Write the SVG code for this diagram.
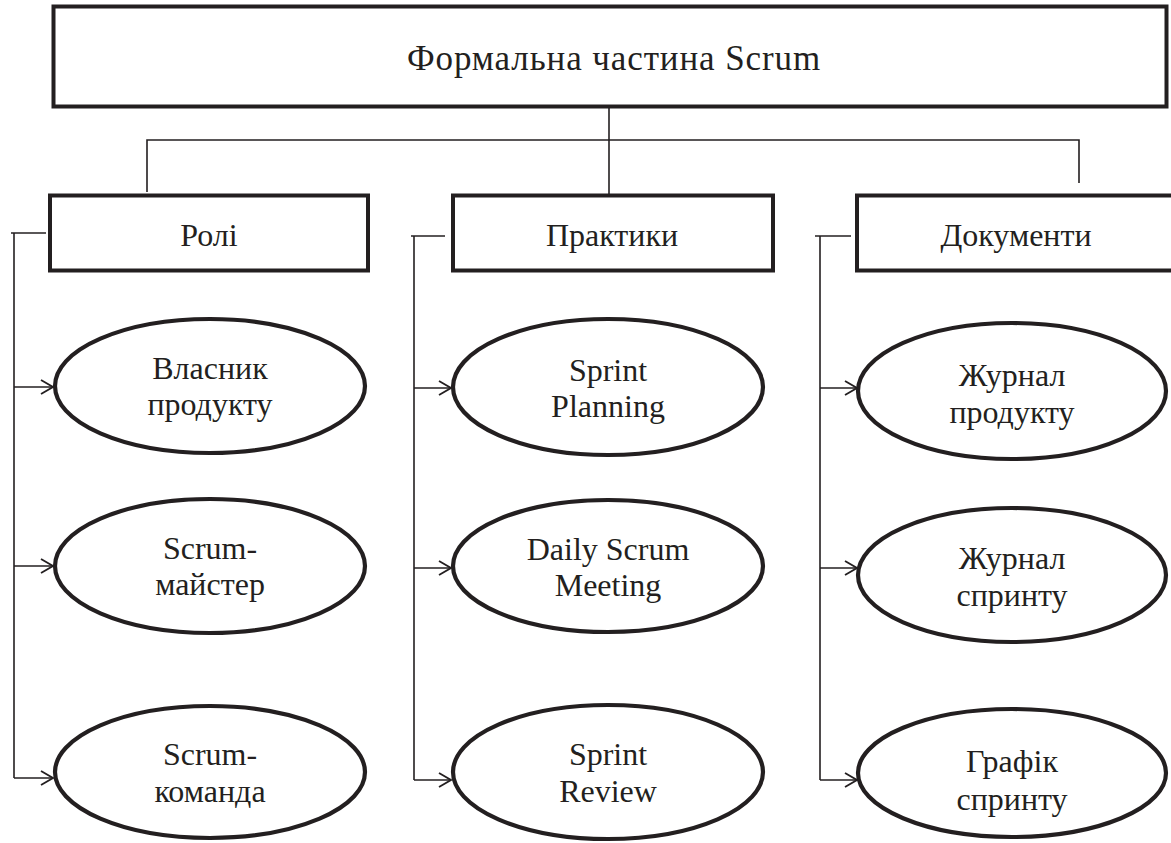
<svg xmlns="http://www.w3.org/2000/svg" width="1171" height="843" viewBox="0 0 1171 843">
<defs>
<marker id="arr" viewBox="0 0 14 16" refX="13" refY="8" markerWidth="14" markerHeight="16" markerUnits="userSpaceOnUse" orient="auto">
<path d="M1,1 L13,8 L1,15" fill="none" stroke="#231f20" stroke-width="1.8"/>
</marker>
<style>
.box{fill:#fff;stroke:#231f20;stroke-width:4}
.ell{fill:#fff;stroke:#231f20;stroke-width:4.2}
.ln{fill:none;stroke:#231f20;stroke-width:1.6}
.t{font-family:"Liberation Serif","Times New Roman",serif;font-size:32px;fill:#231f20;text-anchor:middle}
.tt{font-family:"Liberation Serif","Times New Roman",serif;font-size:35px;letter-spacing:0.9px;fill:#231f20;text-anchor:middle}
</style>
</defs>
<rect width="1171" height="843" fill="#fff"/>
<g id="connectors">
<path class="ln" d="M609,108 V194"/>
<path class="ln" d="M147,192 V140 H1079 V183"/>
<path class="ln" d="M46,233 H11"/>
<path class="ln" d="M14,233 V778"/>
<path class="ln" d="M14,387 H53" marker-end="url(#arr)"/>
<path class="ln" d="M14,566 H53" marker-end="url(#arr)"/>
<path class="ln" d="M14,778 H53" marker-end="url(#arr)"/>
<path class="ln" d="M445,236 H411"/>
<path class="ln" d="M414,236 V780"/>
<path class="ln" d="M414,388 H451" marker-end="url(#arr)"/>
<path class="ln" d="M414,568 H451" marker-end="url(#arr)"/>
<path class="ln" d="M414,780 H451" marker-end="url(#arr)"/>
<path class="ln" d="M851,236 H815"/>
<path class="ln" d="M820,236 V780"/>
<path class="ln" d="M820,388 H857" marker-end="url(#arr)"/>
<path class="ln" d="M820,568 H857" marker-end="url(#arr)"/>
<path class="ln" d="M820,780 H857" marker-end="url(#arr)"/>
</g>
<g id="root">
<rect class="box" x="53.5" y="6.5" width="1113" height="100"/>
<text class="tt" x="614" y="70">Формальна частина Scrum</text>
</g>
<g id="roles">
<rect class="box" x="50" y="195.5" width="318" height="75"/>
<text class="t" x="209" y="246">Ролі</text>
</g>
<g id="practices">
<rect class="box" x="453" y="195.5" width="320" height="75"/>
<text class="t" x="612" y="246">Практики</text>
</g>
<g id="documents">
<rect class="box" x="857" y="195.5" width="320" height="75"/>
<text class="t" x="1016" y="246">Документи</text>
</g>
<g id="product-owner">
<ellipse class="ell" cx="210" cy="386" rx="155" ry="67"/>
<text class="t" x="210" y="379">Власник</text>
<text class="t" x="210" y="415">продукту</text>
</g>
<g id="scrum-master">
<ellipse class="ell" cx="210" cy="566" rx="155" ry="67"/>
<text class="t" x="210" y="559">Scrum-</text>
<text class="t" x="210" y="595">майстер</text>
</g>
<g id="scrum-team">
<ellipse class="ell" cx="210" cy="772" rx="155" ry="66"/>
<text class="t" x="210" y="765">Scrum-</text>
<text class="t" x="210" y="802">команда</text>
</g>
<g id="sprint-planning">
<ellipse class="ell" cx="608" cy="387" rx="155" ry="68"/>
<text class="t" x="608" y="381">Sprint</text>
<text class="t" x="608" y="417">Planning</text>
</g>
<g id="daily-scrum">
<ellipse class="ell" cx="608" cy="566" rx="155" ry="66"/>
<text class="t" x="608" y="560">Daily Scrum</text>
<text class="t" x="608" y="596">Meeting</text>
</g>
<g id="sprint-review">
<ellipse class="ell" cx="608" cy="772" rx="155" ry="67"/>
<text class="t" x="608" y="765">Sprint</text>
<text class="t" x="608" y="802">Review</text>
</g>
<g id="product-backlog">
<ellipse class="ell" cx="1012" cy="391" rx="154" ry="68"/>
<text class="t" x="1012" y="386">Журнал</text>
<text class="t" x="1012" y="423">продукту</text>
</g>
<g id="sprint-backlog">
<ellipse class="ell" cx="1012" cy="575" rx="154" ry="67"/>
<text class="t" x="1012" y="569">Журнал</text>
<text class="t" x="1012" y="606">спринту</text>
</g>
<g id="burndown">
<ellipse class="ell" cx="1012" cy="773" rx="154" ry="64"/>
<text class="t" x="1012" y="772">Графік</text>
<text class="t" x="1012" y="810">спринту</text>
</g>
</svg>
